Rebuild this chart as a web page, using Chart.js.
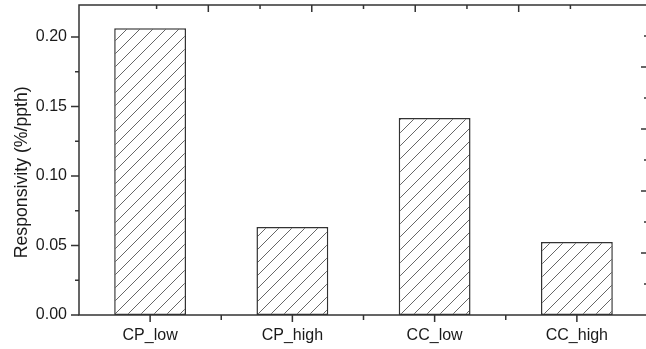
<!DOCTYPE html>
<html>
<head>
<meta charset="utf-8">
<script src="https://cdn.jsdelivr.net/npm/chart.js@4.4.1/dist/chart.umd.min.js"></script>
<style>
  html, body { margin: 0; padding: 0; background: #fff; overflow: hidden; }
  #wrap { width: 646px; height: 349px; overflow: hidden; }
  #grafico { display: block; }
</style>
</head>
<body>
<div id="wrap"><canvas id="grafico" width="651" height="349"></canvas></div>
<script>
// datos
const categorias = ['CP_low', 'CP_high', 'CC_low', 'CC_high'];
const responsividad = [0.2063, 0.0633, 0.1417, 0.0525];
const ticksY = [0.00, 0.05, 0.10, 0.15, 0.20];
const ejeYMax = 0.223;
const ejeSecundarioMax = 10;   // eje superior / derecho sin etiquetas (recortado)

const fuente = '"Liberation Sans", Arial, sans-serif';
const colorEje = '#333';

// patron de rayado "/"
function crearRayado() {
    const s = 13;
    const c = document.createElement('canvas');
    c.width = s; c.height = s;
    const p = c.getContext('2d');
    p.fillStyle = '#fff';
    p.fillRect(0, 0, s, s);
    p.strokeStyle = '#555';
    p.lineWidth = 0.9;
    p.beginPath();
    p.moveTo(0, s); p.lineTo(s, 0);
    p.moveTo(-1, 1); p.lineTo(1, -1);
    p.moveTo(s - 1, s + 1); p.lineTo(s + 1, s - 1);
    p.stroke();
    return p.createPattern(c, 'repeat');
}

// marco y marcas de los ejes
const marcoEjes = {
    id: 'marcoEjes',
    afterDatasetsDraw(chart) {
        const { ctx, chartArea: a, scales } = chart;
        const x = scales.x, y = scales.y, x2 = scales.x2, y2 = scales.y2;
        ctx.save();
        ctx.strokeStyle = colorEje;
        ctx.lineWidth = 1.5;
        // el lado derecho del marco queda fuera del recorte
        ctx.beginPath();
        ctx.moveTo(a.right + 2, a.top);
        ctx.lineTo(a.left, a.top);
        ctx.lineTo(a.left, a.bottom);
        ctx.lineTo(a.right + 2, a.bottom);
        ctx.stroke();

        ctx.beginPath();
        // eje izquierdo, marcas hacia fuera
        for (let i = 0; i < ticksY.length; i++) {
            const py = y.getPixelForValue(ticksY[i]);
            ctx.moveTo(a.left - 8, py); ctx.lineTo(a.left, py);
            const pm = y.getPixelForValue(ticksY[i] + 0.025);
            if (ticksY[i] + 0.025 <= ejeYMax) { ctx.moveTo(a.left - 4, pm); ctx.lineTo(a.left, pm); }
        }
        // eje inferior: centros y limites de categoria
        for (let i = 0; i < categorias.length; i++) {
            const px = x.getPixelForValue(i);
            ctx.moveTo(px, a.bottom); ctx.lineTo(px, a.bottom + 7);
            const pb = x.getPixelForValue(i + 0.5);
            ctx.moveTo(pb, a.bottom); ctx.lineTo(pb, a.bottom + 5);
        }
        // eje superior y derecho, marcas hacia dentro
        for (let k = 1; k < ejeSecundarioMax; k++) {
            const largo = k % 2 === 0 ? 7 : 4;
            const px = x2.getPixelForValue(k);
            ctx.moveTo(px, a.top); ctx.lineTo(px, a.top + largo);
            const py = y2.getPixelForValue(k);
            ctx.moveTo(a.right, py); ctx.lineTo(a.right - largo, py);
        }
        ctx.stroke();
        ctx.restore();
    }
};

const canvas = document.getElementById('grafico');
const ctx = canvas.getContext('2d');

new Chart(ctx, {
    type: 'bar',
    data: {
        labels: categorias,
        datasets: [{
            data: responsividad,
            backgroundColor: crearRayado(),
            borderColor: colorEje,
            borderWidth: 1.5,
            borderSkipped: false,
            categoryPercentage: 1,
            barPercentage: 0.505
        }]
    },
    options: {
        responsive: false,
        animation: false,
        devicePixelRatio: 1,
        layout: { padding: { top: 5, right: 3, bottom: 0, left: 0 } },
        plugins: {
            legend: { display: false },
            tooltip: { enabled: false }
        },
        scales: {
            x: {
                type: 'category',
                position: 'bottom',
                grid: { display: false, drawTicks: false },
                border: { display: false },
                ticks: { font: { family: fuente, size: 16 }, color: '#1a1a1a', padding: 11, maxRotation: 0 },
                afterFit: s => { s.height = 34; s.paddingLeft = 0; s.paddingRight = 0; }
            },
            y: {
                type: 'linear',
                position: 'left',
                min: 0,
                max: ejeYMax,
                grid: { display: false, drawTicks: false },
                border: { display: false },
                afterBuildTicks: s => { s.ticks = ticksY.map(v => ({ value: v })); },
                ticks: {
                    font: { family: fuente, size: 16 },
                    color: '#1a1a1a',
                    padding: 12,
                    callback: v => Number(v).toFixed(2)
                },
                title: {
                    display: true,
                    // espacios finales: el titulo del original esta algo bajo el centro
                    text: 'Responsivity (%/ppth)     ',
                    font: { family: fuente, size: 17.7 },
                    color: '#1a1a1a',
                    padding: { top: 11, bottom: 0 }
                },
                afterFit: s => { s.width = 79; s.paddingTop = 0; s.paddingBottom = 0; }
            },
            x2: { type: 'linear', position: 'top', min: 0, max: ejeSecundarioMax, display: false },
            y2: { type: 'linear', position: 'right', min: 0, max: ejeSecundarioMax, display: false }
        }
    },
    plugins: [marcoEjes]
});
</script>
</body>
</html>
